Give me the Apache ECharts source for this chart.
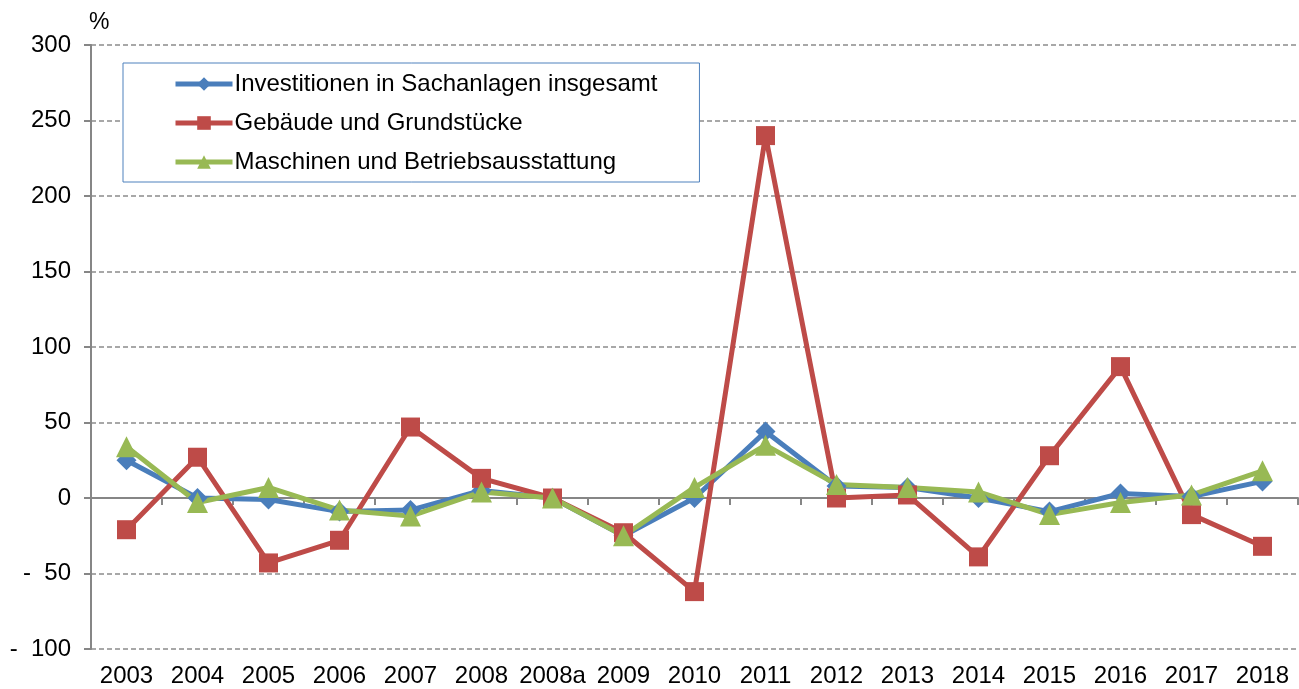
<!DOCTYPE html>
<html><head><meta charset="utf-8">
<script src="https://cdn.jsdelivr.net/npm/echarts@6/dist/echarts.min.js"></script>
<style>html,body{margin:0;padding:0;background:#fff}#c{width:1299px;height:689px}</style>
</head><body><div id="c"></div>
<script>
const categories = ['2003','2004','2005','2006','2007','2008','2008a','2009','2010','2011','2012','2013','2014','2015','2016','2017','2018'];
const investitionen = [25, 0, -1, -9, -8, 5, 0, -25, 0, 44, 8, 7, 0, -9, 3, 1, 11];
const gebaeude = [-21, 27, -43, -28, 47, 13, 0, -23, -62, 240, 0, 2, -39, 28, 87, -11, -32];
const maschinen = [34, -3, 7, -8, -12, 4, 0, -25, 7, 35, 9, 7, 4, -11, -3, 2, 18];
const seriesNames = ['Investitionen in Sachanlagen insgesamt', 'Gebäude und Grundstücke', 'Maschinen und Betriebsausstattung'];
const yTicks = {min: -100, max: 300, interval: 50};

const font = 'Liberation Sans, Arial, sans-serif';
const chart = echarts.init(document.getElementById('c'));
const mk = (name, data, color, symbol, size) => ({
  name, type: 'line', data, xAxisIndex: 0,
  symbol, symbolSize: size,
  lineStyle: {color, width: 5},
  itemStyle: {color},
  emphasis: {disabled: true},
  animation: false
});
chart.setOption({
  animation: false,
  grid: {left: 91, right: 1, top: 45, bottom: 40, containLabel: false},
  graphic: [{type: 'text', left: 89, top: 11, style: {text: '%', font: '23px ' + font, fill: '#000'}}],
  legend: {
    orient: 'vertical', left: 123, top: 63,
    backgroundColor: '#fff', borderColor: '#4f81bd', borderWidth: 1,
    padding: [9, 42, 8, 50],
    itemWidth: 57, itemHeight: 17, itemGap: 15,
    lineStyle: {width: 5},
    textStyle: {fontFamily: font, fontSize: 24, color: '#000', lineHeight: 24, padding: [0,0,0,-3]},
    data: seriesNames
  },
  xAxis: [{
    type: 'category', data: categories, position: 'bottom',
    axisLine: {onZero: true, lineStyle: {color: '#868686', width: 2}},
    axisTick: {show: true, length: 7, lineStyle: {color: '#868686', width: 2}},
    axisLabel: {show: false}, splitLine: {show: false}
  }, {
    type: 'category', data: categories, position: 'bottom',
    axisLine: {show: false, onZero: false}, axisTick: {show: false},
    axisLabel: {fontFamily: font, fontSize: 24, color: '#000', margin: 15, interval: 0}
  }],
  yAxis: {
    type: 'value', min: yTicks.min, max: yTicks.max, interval: yTicks.interval,
    axisLine: {show: true, lineStyle: {color: '#868686', width: 2}},
    axisTick: {show: true, length: 7, lineStyle: {color: '#868686', width: 2}},
    axisLabel: {fontFamily: font, fontSize: 24, color: '#000', margin: 20,
      formatter: v => v < 0 ? '-  ' + Math.abs(v) : String(v)},
    splitLine: {show: true, lineStyle: {color: '#8c8c8c', width: 1.5, type: [5, 3]}}
  },
  series: [
    mk(seriesNames[0], investitionen, '#4a7ebb', 'diamond', 20),
    mk(seriesNames[1], gebaeude, '#be4b48', 'rect', 19),
    mk(seriesNames[2], maschinen, '#98b954', 'triangle', 21)
  ]
});
</script></body></html>
